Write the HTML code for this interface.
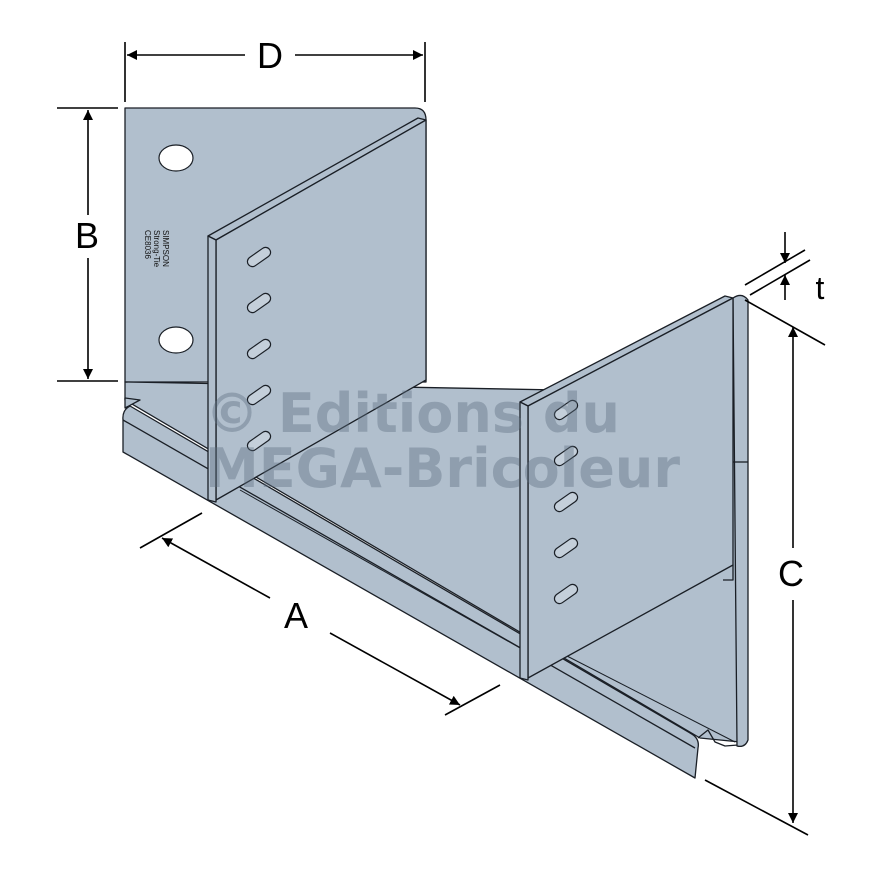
<!DOCTYPE html>
<html><head><meta charset="utf-8"><style>
html,body{margin:0;padding:0;background:#fff;}
svg{display:block;}
</style></head><body>
<svg width="880" height="880" viewBox="0 0 880 880" xmlns="http://www.w3.org/2000/svg">
<defs>
<marker id="ar" viewBox="0 0 10 10" refX="10" refY="5" markerWidth="10" markerHeight="10" orient="auto-start-reverse" markerUnits="userSpaceOnUse">
<path d="M0,0 L10,5 L0,10 z" fill="#000"/>
</marker>
</defs>
<g stroke="#1a1f26" stroke-width="1.3" stroke-linejoin="round" fill="#b1bfcd">
<!-- back plate -->
<path d="M125,108 L415,108 Q426,108 426,120 L426,382 L208,382 L125,382 Z"/>
<!-- floor -->
<path d="M125,382 L560,390 L740,390 L740,742 L700,738 L125,400 Z"/>
<path d="M125,398 L140,400 L125,408 Z"/>
<!-- bottom front band -->
<path d="M130,406 Q122,410 123,420 L123,452 L695,778 L698,748 Q700,738 690,733 Z"/>
<line x1="123" y1="420" x2="695" y2="748" fill="none"/>
<path d="M698,738 L708,730 L715,742 L725,746 L738,745" fill="none"/>
<line x1="240" y1="490" x2="520" y2="648" fill="none" stroke-width="1"/>
<line x1="565" y1="655" x2="735" y2="742" fill="none" stroke-width="1"/>
<!-- left flange -->
<path d="M208,236 L418,118 L426,120 L216,240 Z"/>
<path d="M216,240 L426,120 L426,380 L216,500 Z"/>
<path d="M208,236 L216,240 L216,502 L208,500 Z"/>
<!-- right flange edge band -->
<path d="M733,298 Q742,292 748,300 L748,740 Q745,748 737,746 L733,298 Z"/>
<line x1="733" y1="462" x2="748" y2="462" fill="none"/>
<path d="M728,565 L733,565 L733,580 L723,580" fill="none"/>
<!-- right flange -->
<path d="M520,402 L725,296 L733,298 L528,406 Z"/>
<path d="M528,406 L733,298 L733,565 L528,678 Z"/>
<path d="M520,402 L528,406 L528,680 L520,678 Z"/>
</g>
<!-- holes -->
<g stroke="#1a1f26" stroke-width="1.2" fill="#fff">
<ellipse cx="176" cy="158" rx="17" ry="13"/>
<ellipse cx="176" cy="340" rx="17" ry="13"/>
</g>
<g stroke="#1a1f26" stroke-width="1.2" fill="#c4cfda">
<rect x="-13" y="-5" width="26" height="10" rx="5" transform="translate(259,257) rotate(-35)"/>
<rect x="-13" y="-5" width="26" height="10" rx="5" transform="translate(259,303) rotate(-35)"/>
<rect x="-13" y="-5" width="26" height="10" rx="5" transform="translate(259,349) rotate(-35)"/>
<rect x="-13" y="-5" width="26" height="10" rx="5" transform="translate(259,395) rotate(-35)"/>
<rect x="-13" y="-5" width="26" height="10" rx="5" transform="translate(259,441) rotate(-35)"/>
<rect x="-13" y="-5" width="26" height="10" rx="5" transform="translate(566,410) rotate(-35)"/>
<rect x="-13" y="-5" width="26" height="10" rx="5" transform="translate(566,456) rotate(-35)"/>
<rect x="-13" y="-5" width="26" height="10" rx="5" transform="translate(566,502) rotate(-35)"/>
<rect x="-13" y="-5" width="26" height="10" rx="5" transform="translate(566,548) rotate(-35)"/>
<rect x="-13" y="-5" width="26" height="10" rx="5" transform="translate(566,594) rotate(-35)"/>
</g>
<text transform="translate(163,230) rotate(90)" font-family="Liberation Sans, sans-serif" font-size="8" fill="#111">
<tspan x="0" y="0">SIMPSON</tspan><tspan x="0" y="9">Strong-Tie</tspan><tspan x="0" y="18">CE8036</tspan></text>
<!-- watermark -->
<g font-family="DejaVu Sans, Liberation Sans, sans-serif" font-weight="bold" font-size="54" fill="#5d6d80" fill-opacity="0.4">
<text x="205" y="432" textLength="415" lengthAdjust="spacingAndGlyphs">© Editions du</text>
<text x="205" y="487" textLength="475" lengthAdjust="spacingAndGlyphs">MEGA-Bricoleur</text>
</g>
<!-- dimensions -->
<g stroke="#000" stroke-width="1.6" fill="none">
<line x1="125" y1="42" x2="125" y2="102"/>
<line x1="425" y1="42" x2="425" y2="102"/>
<line x1="127" y1="55" x2="245" y2="55" marker-start="url(#ar)"/>
<line x1="295" y1="55" x2="423" y2="55" marker-end="url(#ar)"/>
<line x1="57" y1="108" x2="118" y2="108"/>
<line x1="57" y1="381" x2="118" y2="381"/>
<line x1="88" y1="110" x2="88" y2="215" marker-start="url(#ar)"/>
<line x1="88" y1="258" x2="88" y2="379" marker-end="url(#ar)"/>
<line x1="745" y1="300" x2="825" y2="345"/>
<line x1="705" y1="780" x2="808" y2="835"/>
<line x1="793" y1="327" x2="793" y2="548" marker-start="url(#ar)"/>
<line x1="793" y1="600" x2="793" y2="823" marker-end="url(#ar)"/>
<line x1="140" y1="548" x2="202" y2="513"/>
<line x1="445" y1="715" x2="500" y2="685"/>
<line x1="162" y1="538" x2="270" y2="598" marker-start="url(#ar)"/>
<line x1="330" y1="633" x2="460" y2="705" marker-end="url(#ar)"/>
<line x1="745" y1="285" x2="805" y2="250"/>
<line x1="750" y1="295" x2="810" y2="260"/>
<line x1="785" y1="232" x2="785" y2="263" marker-end="url(#ar)"/>
<line x1="785" y1="300" x2="785" y2="275" marker-end="url(#ar)"/>
</g>
<g font-family="Liberation Sans, sans-serif" font-size="36" fill="#000" text-anchor="middle">
<text x="270" y="68">D</text>
<text x="87" y="248">B</text>
<text x="791" y="586">C</text>
<text x="296" y="628">A</text>
<text x="820" y="299" font-size="32">t</text>
</g>
</svg>
</body></html>
